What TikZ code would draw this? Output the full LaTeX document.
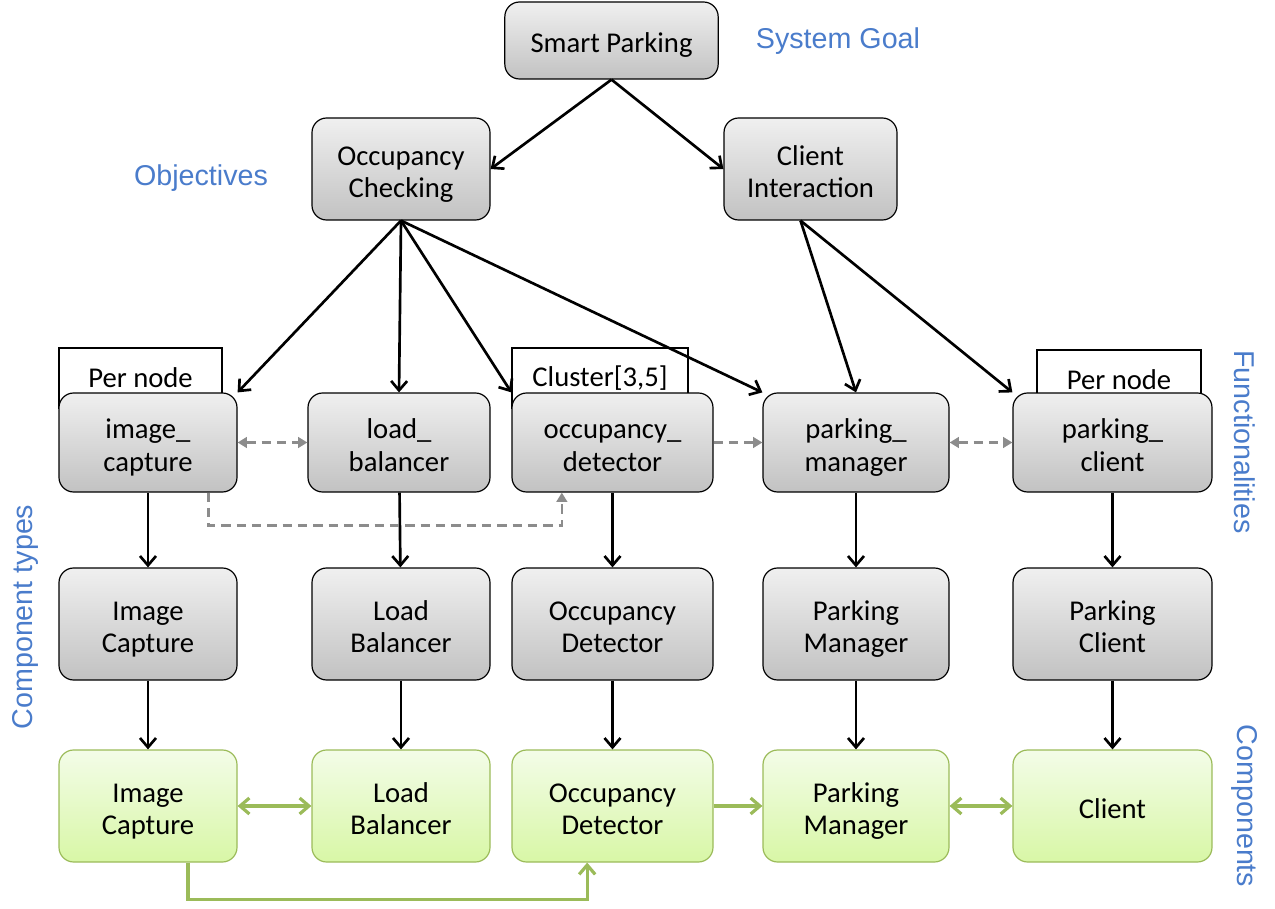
\documentclass[tikz,border=0pt]{standalone}
\usepackage{fontspec}
\setmainfont{Carlito}
\newfontfamily\labfont{Liberation Sans}
\usetikzlibrary{arrows.meta}
\definecolor{goalblue}{HTML}{4A7CCB}
\definecolor{leafgreen}{HTML}{9BBB59}
\definecolor{leaftop}{HTML}{F3FCE8}
\definecolor{leafbot}{HTML}{D8F7A6}
% two lines of box text, set a little low as in the boxes
\newcommand{\twolines}[2]{\rule{0pt}{26pt}#1\\#2\strut}
\begin{document}
\begin{tikzpicture}[x=0.75pt,y=-0.75pt,
box/.style={draw,rounded corners=11pt,line width=0.9pt,top color=gray!12,bottom color=gray!48,align=center,font=\fontsize{21.5}{24.5}\selectfont,inner sep=0pt},
comp/.style={box,draw=leafgreen,top color=leaftop,bottom color=leafbot},
tag/.style={draw,fill=white,line width=0.9pt,font=\fontsize{21.5}{24.5}\selectfont,minimum height=45pt,inner sep=0pt},
lab/.style={text=goalblue,font=\labfont\fontsize{21.5}{24.5}\selectfont},
arr/.style={line width=2pt,-{Straight Barb[length=7pt,width=12pt]}},
dsh/.style={gray!90,line width=2pt,dash pattern=on 7pt off 4.5pt,-{Triangle[length=7pt,width=8pt]}},
grn/.style={leafgreen,line width=2.4pt,-{Straight Barb[length=7pt,width=12pt]}}]
\useasboundingbox (0,0) rectangle (1275,909);
% goal and objectives
\node[box,minimum width=160pt,minimum height=57.75pt](sp) at (611.5,40.5){\rule{0pt}{26pt}Smart Parking\strut};
\node[box,minimum width=133.5pt,minimum height=76.5pt](oc) at (401,169){\twolines{Occupancy}{Checking}};
\node[box,minimum width=129.75pt,minimum height=76.5pt](ci) at (810.5,169){\twolines{Client}{Interaction}};
\node[lab](goal) at (838,41){System Goal};
\node[lab](obj) at (201,178){Objectives};
% deployment tags, behind the functionality boxes
\node[tag,minimum width=122.25pt](t1) at (140.5,378){Per node};
\node[tag,minimum width=132pt](t2) at (600,378){Cluster[3,5]};
\node[tag,minimum width=123pt](t3) at (1119,380){Per node};
% functionalities
\node[box,minimum width=133.5pt,minimum height=74.25pt](fic) at (148,442.5){\twolines{image\_}{capture}};
\node[box,minimum width=136.5pt,minimum height=74.25pt](flb) at (399,442.5){\twolines{load\_}{balancer}};
\node[box,minimum width=150.75pt,minimum height=74.25pt](fod) at (612.5,442.5){\twolines{occupancy\_}{detector}};
\node[box,minimum width=139.5pt,minimum height=74.25pt](fpm) at (856,442.5){\twolines{parking\_}{manager}};
\node[box,minimum width=149.25pt,minimum height=74.25pt](fpc) at (1112.5,442.5){\twolines{parking\_}{client}};
% component types
\node[box,minimum width=133.5pt,minimum height=84pt](tic) at (148,624){\twolines{Image}{Capture}};
\node[box,minimum width=133.5pt,minimum height=84pt](tlb) at (401,624){\twolines{Load}{Balancer}};
\node[box,minimum width=150.75pt,minimum height=84pt](tod) at (612.5,624){\twolines{Occupancy}{Detector}};
\node[box,minimum width=139.5pt,minimum height=84pt](tpm) at (856,624){\twolines{Parking}{Manager}};
\node[box,minimum width=149.25pt,minimum height=84pt](tpc) at (1112.5,624){\twolines{Parking}{Client}};
% components
\node[comp,minimum width=133.5pt,minimum height=84pt](cic) at (148,806){\twolines{Image}{Capture}};
\node[comp,minimum width=133.5pt,minimum height=84pt](clb) at (401,806){\twolines{Load}{Balancer}};
\node[comp,minimum width=150.75pt,minimum height=84pt](cod) at (612.5,806){\twolines{Occupancy}{Detector}};
\node[comp,minimum width=139.5pt,minimum height=84pt](cpm) at (856,806){\twolines{Parking}{Manager}};
\node[comp,minimum width=149.25pt,minimum height=84pt](cpc) at (1112.5,806){\rule{0pt}{26pt}Client\strut};
% side labels
\node[lab,rotate=-90](fun) at (1245,442){Functionalities};
\node[lab,rotate=90](typ) at (25,617){Component types};
\node[lab,rotate=-90](cmp) at (1245,806){Components};
% refinement
\draw[arr](sp.south)--(oc.east);
\draw[arr](sp.south)--(ci.west);
\draw[arr](oc.south)--(fic.north east);
\draw[arr](oc.south)--(flb.north);
\draw[arr](oc.south)--(fod.north west);
\draw[arr](oc.south)--(fpm.north west);
\draw[arr]([xshift=-7.5pt]ci.south)--(fpm.north);
\draw[arr]([xshift=-7.5pt]ci.south)--(fpc.north west);
\foreach \f/\t/\c in {fic/tic/cic,flb/tlb/clb,fod/tod/cod,fpm/tpm/cpm,fpc/tpc/cpc}{\draw[arr](\f)--(\t);\draw[arr](\t)--(\c);}
% dependencies
\draw[dsh,{Triangle[length=7pt,width=8pt]}-{Triangle[length=7pt,width=8pt]}](fic.east)--(flb.west);
\draw[dsh](fod.east)--(fpm.west);
\draw[dsh,{Triangle[length=7pt,width=8pt]}-{Triangle[length=7pt,width=8pt]}](fpm.east)--(fpc.west);
\draw[dsh]([xshift=-22pt]fic.south east)--++(0,33)-|([xshift=-38pt]fod.south);
% bindings
\draw[grn,{Straight Barb[length=7pt,width=12pt]}-{Straight Barb[length=7pt,width=12pt]}](cic.east)--(clb.west);
\draw[grn](cod.east)--(cpm.west);
\draw[grn,{Straight Barb[length=7pt,width=12pt]}-{Straight Barb[length=7pt,width=12pt]}](cpm.east)--(cpc.west);
\draw[grn]([xshift=30pt]cic.south)--++(0,37)-|([xshift=-19pt]cod.south);
\end{tikzpicture}
\end{document}
